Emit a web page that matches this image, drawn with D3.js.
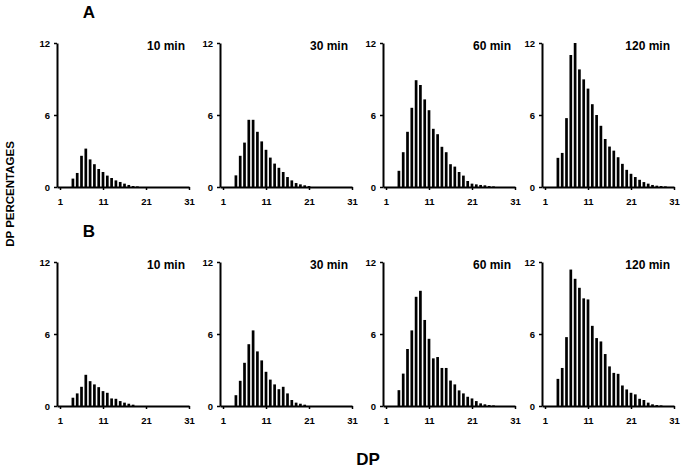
<!DOCTYPE html>
<html>
<head>
<meta charset="utf-8">
<script src="https://cdn.jsdelivr.net/npm/d3@7"></script>
<style>
  body { margin: 0; background: #fff; }
  svg { font-family: "Liberation Sans", Arial, sans-serif; }
</style>
</head>
<body>
<svg id="chart" width="682" height="468"></svg>
<script>
const rowLabels = ["A", "B"];
const timeLabels = ["10 min", "30 min", "60 min", "120 min"];
const xTicks = [1, 11, 21, 31];
const yTicks = [0, 6, 12];
const firstDP = 4;

// row A, percentages for DP 4, 5, 6 ...
const a10 = [0.7, 1.17, 2.6, 3.2, 2.3, 1.9, 1.5, 1.25, 0.95, 0.75, 0.55, 0.42, 0.28, 0.17, 0.08, 0.05];
const a30 = [0.97, 2.6, 3.7, 5.6, 5.6, 4.6, 3.8, 3.1, 2.45, 1.95, 1.6, 1.25, 0.83, 0.55, 0.33, 0.22, 0.14, 0.08];
const a60 = [1.35, 2.9, 4.6, 6.6, 8.9, 8.5, 7.3, 6.4, 4.85, 4.4, 3.35, 2.9, 1.9, 1.7, 1.25, 0.95, 0.5, 0.28, 0.22, 0.17, 0.14, 0.08, 0.05];
const a120 = [2.43, 2.84, 5.74, 11.0, 12.0, 9.8, 8.97, 8.2, 6.9, 6.0, 5.1, 4.0, 3.37, 3.03, 2.48, 1.93, 1.43, 1.1, 0.83, 0.6, 0.41, 0.28, 0.17, 0.11, 0.08, 0.05];

// row B
const b10 = [0.69, 1.05, 1.6, 2.6, 2.07, 1.8, 1.57, 1.24, 1.1, 0.63, 0.6, 0.41, 0.28, 0.19, 0.11];
const b30 = [0.9, 2.1, 3.6, 5.15, 6.3, 4.55, 3.8, 2.85, 2.2, 1.8, 1.4, 1.6, 1.05, 0.5, 0.28, 0.19, 0.11];
const b60 = [1.32, 2.7, 4.75, 6.3, 9.1, 9.6, 7.17, 5.6, 3.97, 4.08, 3.17, 3.17, 2.12, 1.8, 1.3, 1.05, 0.77, 0.63, 0.41, 0.22, 0.14, 0.08, 0.05];
const b120 = [2.26, 3.17, 5.74, 11.37, 10.6, 9.85, 8.97, 8.88, 6.68, 5.66, 5.38, 4.33, 3.3, 2.76, 2.68, 1.71, 1.38, 1.1, 0.97, 0.6, 0.5, 0.28, 0.14, 0.08, 0.05];

const rows = [
  [a10, a30, a60, a120],
  [b10, b30, b60, b120],
];

const svg = d3.select("#chart");

const panelLeft = [57, 220, 383, 542];
const panelTop = [43, 262];
const panelW = 132;
const panelH = 144;
const barW = 2.7;

const x = d3.scaleLinear().domain([0.3, 31]).range([0, panelW]);
const y = d3.scaleLinear().domain([0, 12]).range([panelH, 0]);

rows.forEach((series, r) => {
  series.forEach((values, c) => {
    const g = svg
      .append("g")
      .attr("transform", `translate(${panelLeft[c]},${panelTop[r]})`);

    // bars
    g.selectAll("rect")
      .data(values)
      .enter()
      .append("rect")
      .attr("x", (d, i) => x(firstDP + i) - barW / 2)
      .attr("y", (d) => y(d))
      .attr("width", barW)
      .attr("height", (d) => y(0) - y(d))
      .attr("fill", "#000");

    // axes
    const yAxis = g
      .append("g")
      .call(d3.axisLeft(y).tickValues(yTicks).tickSize(3).tickSizeOuter(0));
    const xAxis = g
      .append("g")
      .attr("transform", `translate(0,${panelH})`)
      .call(d3.axisBottom(x).tickValues(xTicks).tickSize(3).tickSizeOuter(0));

    for (const ax of [yAxis, xAxis]) {
      ax.select(".domain").attr("stroke-width", 2);
      ax.selectAll(".tick line").attr("stroke-width", 1.5);
      ax.selectAll(".tick text")
        .attr("font-size", 9.5)
        .attr("font-weight", "bold")
        .attr("fill", "#000")
        .attr("font-family", "Liberation Sans, Arial, sans-serif");
    }
    yAxis.selectAll(".tick text").attr("x", -7);
    xAxis.selectAll(".tick text").attr("y", 11);

    g.append("text")
      .attr("x", x(31) - 4)
      .attr("y", 7)
      .attr("text-anchor", "end")
      .attr("font-size", 12)
      .attr("font-weight", "bold")
      .text(timeLabels[c]);
  });

  svg
    .append("text")
    .attr("x", 89)
    .attr("y", panelTop[r] - 25)
    .attr("text-anchor", "middle")
    .attr("font-size", 17)
    .attr("font-weight", "bold")
    .text(rowLabels[r]);
});

svg
  .append("text")
  .attr("transform", "translate(14,194) rotate(-90)")
  .attr("text-anchor", "middle")
  .attr("font-size", 11.5)
  .attr("font-weight", "bold")
  .text("DP PERCENTAGES");

svg
  .append("text")
  .attr("x", 368)
  .attr("y", 465)
  .attr("text-anchor", "middle")
  .attr("font-size", 17)
  .attr("font-weight", "bold")
  .text("DP");
</script>
</body>
</html>
